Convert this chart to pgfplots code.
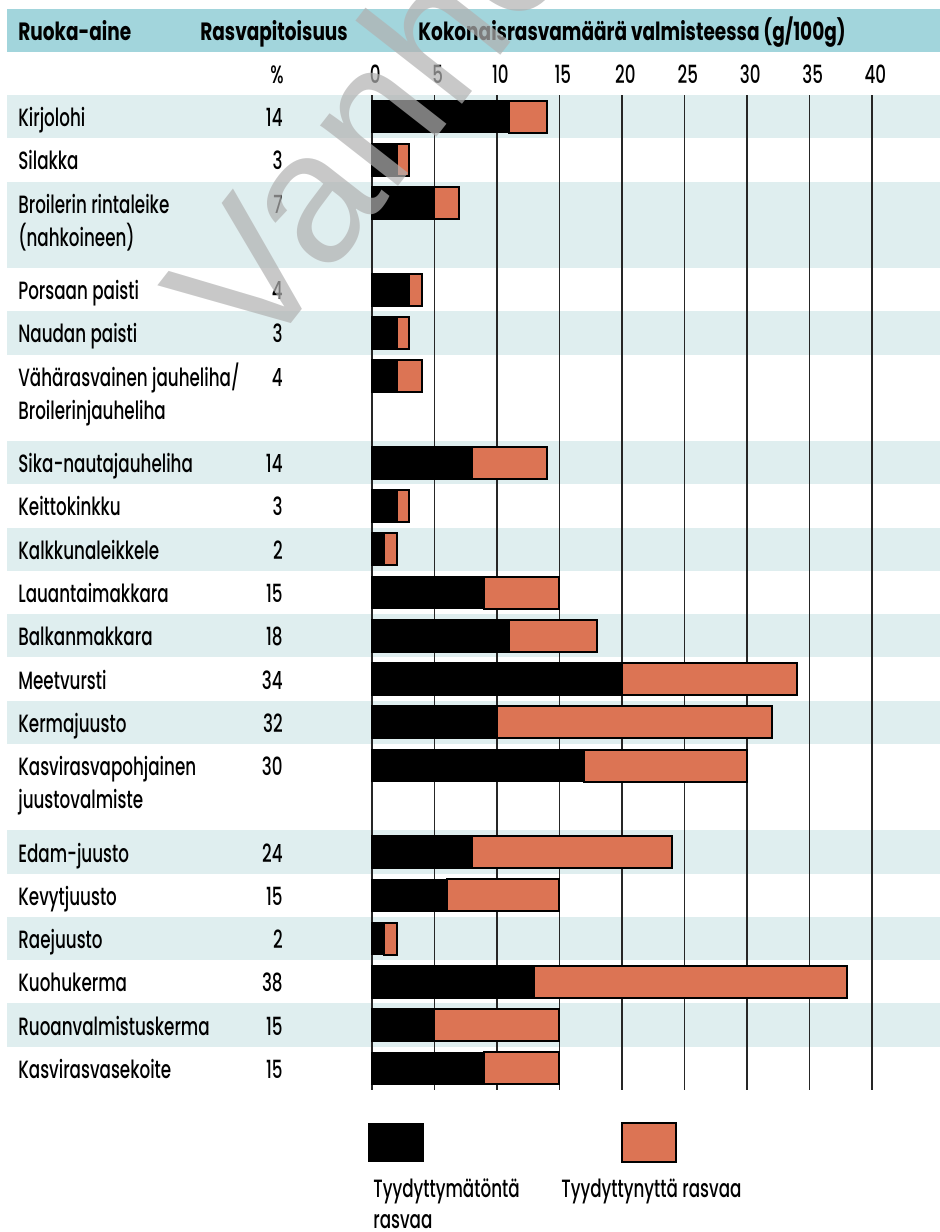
\documentclass[border=0pt]{standalone}
\usepackage{fontspec}
\setmainfont{Poppins}[UprightFont=* Medium, FakeStretch=0.67]
\newfontfamily\hdrfont{Poppins}[UprightFont=* Bold, FakeStretch=0.74]
\newfontfamily\wmfont{Liberation Sans}
\usepackage{pgfplots}
\pgfplotsset{compat=1.18}

\definecolor{hdrteal}{RGB}{162,213,220}
\definecolor{rowteal}{RGB}{223,238,239}
\definecolor{satfat}{RGB}{220,116,84}
\definecolor{wmgray}{RGB}{177,177,177}

% unsaturated / saturated fat, g per 100 g; y = row slot (two-line rows take two slots)
\pgfplotstableread{
y  unsat sat
0  11  3
1  2   1
2  5   2
4  3   1
5  2   1
6  2   2
8  8   6
9  2   1
10 1   1
11 9   6
12 11  7
13 20  14
14 10  22
15 17  13
17 8   16
18 6   9
19 1   1
20 13  25
21 5   10
22 9   6
}\fatdata

\newcommand{\twolines}[2]{\vtop{\hbox{#1}\hbox{#2}}}

\begin{document}
\begin{tikzpicture}[font=\fontsize{15pt}{20pt}\selectfont]
% 1 px of the reference = 0.6pt, y downwards
\begin{scope}[x=0.6pt,y=-0.6pt]
  \fill[hdrteal] (7,9) rectangle (940,52);
  \foreach \a/\b in {0/0,2/3,5/5,8/8,10/10,12/12,14/14,17/17,19/19,21/21}
    \fill[rowteal] (7,{95+43.26*\a}) rectangle (940,{95+43.26*(\b+1)});
  \begin{scope}[font=\hdrfont\fontsize{15pt}{20pt}\selectfont]
    \node[anchor=base west, inner sep=0] at (18,40) {Ruoka-aine};
    \node[anchor=base west, inner sep=0] at (200,40) {Rasvapitoisuus};
    \node[anchor=base west, inner sep=0] at (418,40) {Kokonaisrasvamäärä valmisteessa (g/100g)};
  \end{scope}
  \node[anchor=base, inner sep=0] at (277,83) {\%};
  \foreach \u/\p in {0/14,1/3,2/7,4/4,5/3,6/4,8/14,9/3,10/2,11/15,12/18,13/34,
                     14/32,15/30,17/24,18/15,19/2,20/38,21/15,22/15}
    \node[anchor=base east, inner sep=0] at (283,{95+43.26*(\u+0.5)+10}) {\p};
\end{scope}

\begin{axis}[
  at={(223.2pt,-57pt)}, anchor=north west,
  scale only axis, width=300pt, height=597pt,
  xmin=0, xmax=40, ymin=-0.5, ymax=22.5, y dir=reverse,
  xbar stacked, bar width=19.2pt,
  clip=false,
  axis line style={draw=none}, major tick length=0pt,
  xmajorgrids, grid style={black!85, line width=0.8pt},
  xtick={0,5,...,40},
  xticklabels={0,5,10,15,20,25,30,35,40},
  xticklabel pos=upper,
  /pgf/number format/assume math mode=true,
  tick label style={font=\fontsize{15pt}{20pt}\selectfont},
  xticklabel style={anchor=center, yshift=12.6pt, xshift=2pt},
  ytick={0,1,2,4,5,6,8,9,10,11,12,13,14,15,17,18,19,20,21,22},
  yticklabels={Kirjolohi, Silakka, {\twolines{Broilerin rintaleike}{(nahkoineen)}},
    Porsaan paisti, Naudan paisti, {\twolines{Vähärasvainen jauheliha/}{Broilerinjauheliha}},
    Sika-nautajauheliha, Keittokinkku, Kalkkunaleikkele, Lauantaimakkara,
    Balkanmakkara, Meetvursti, Kermajuusto,
    {\twolines{Kasvirasvapohjainen}{juustovalmiste}}, Edam-juusto, Kevytjuusto,
    Raejuusto, Kuohukerma, Ruoanvalmistuskerma, Kasvirasvasekoite},
  yticklabel style={anchor=base west, inner sep=0pt,
    xshift=-212.4pt, yshift=-6pt},
]
\addplot[fill=black, draw=black, line width=1pt] table[x=unsat, y=y] {\fatdata};
\addplot[fill=satfat, draw=black, line width=1.2pt] table[x=sat, y=y] {\fatdata};
\end{axis}

\begin{scope}[x=0.6pt,y=-0.6pt]
  % legend
  \fill[black] (368,1123) rectangle (424,1162);
  \filldraw[fill=satfat, draw=black, line width=1.2pt] (622,1123) rectangle (676,1162);
  \node[anchor=base west, inner sep=0, font=\fontsize{15pt}{19pt}\selectfont]
    at (373,1197) {\twolines{Tyydyttymätöntä}{rasvaa}};
  \node[anchor=base west, inner sep=0] at (561,1197) {Tyydyttynyttä rasvaa};
  % watermark
  \node[rotate=52, anchor=base west, inner sep=0, text=wmgray, opacity=0.7,
        font=\wmfont\fontsize{112pt}{112pt}\selectfont] at (258,366) {Vanhentunut};
\end{scope}

\pgfresetboundingbox
\path[use as bounding box, x=0.6pt, y=-0.6pt] (0,0) rectangle (940,1232);
\end{tikzpicture}
\end{document}
